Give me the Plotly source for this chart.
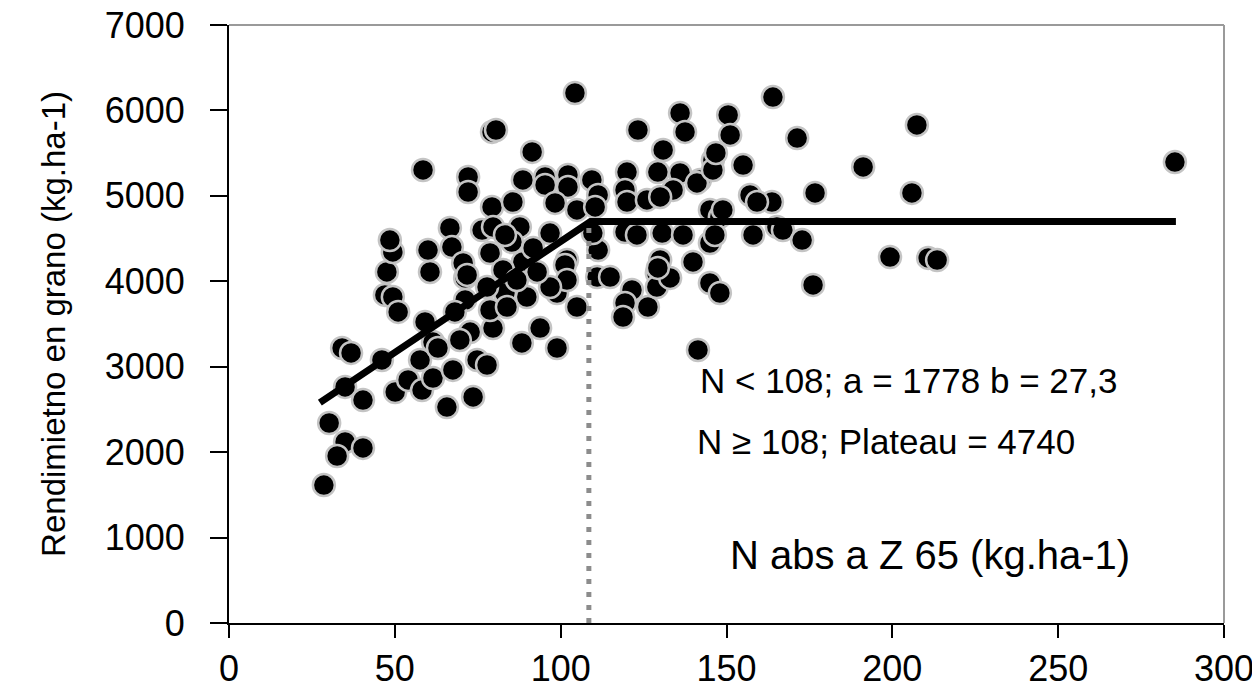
import plotly.graph_objects as go

# Observed points: N absorbed at Z65 (kg/ha) vs grain yield (kg/ha)
n_abs = [30.2, 35.0, 32.6, 40.4, 28.6, 34.1, 36.8, 35.0, 40.4, 46.1, 50.1, 54.0, 58.2, 57.6, 61.5,
         65.7, 67.5, 73.6, 74.8, 77.8, 72.7, 59.1, 61.5, 63.0, 79.6, 69.6, 47.6, 60.6, 47.0, 49.4,
         51.0, 71.2, 71.2, 78.7, 58.5, 72.1, 72.1, 79.3, 79.3, 66.6, 76.3, 67.2, 60.0, 49.4, 48.5,
         70.6, 78.7, 71.8, 104.3, 80.5, 91.4, 123.3, 136.0, 137.5, 130.9, 145.9, 120.0, 129.3, 136.0,
         142.0, 88.6, 95.3, 102.2, 109.4, 95.3, 102.2, 111.3, 85.6, 98.3, 104.9, 110.4, 119.4, 120.0,
         126.0, 133.9, 130.0, 145.0, 141.1, 145.9, 79.6, 87.7, 85.3, 96.8, 88.6, 101.9, 111.3, 109.7,
         119.4, 123.0, 130.6, 136.9, 145.0, 130.0, 139.9, 129.0, 148.0, 111.0, 114.9, 121.5, 119.4,
         118.8, 126.3, 129.0, 133.0, 129.3, 145.0, 141.4, 104.9, 98.9, 89.8, 83.2, 93.8, 88.3, 98.9,
         101.3, 101.9, 96.8, 164.0, 150.5, 151.1, 171.3, 207.4, 191.2, 155.0, 176.7, 205.9, 157.1,
         163.7, 159.2, 148.9, 158.0, 165.2, 167.0, 172.8, 199.3, 210.8, 213.5, 176.1, 148.0, 285.2,
         146.8, 83.2, 91.7, 82.6, 92.9, 77.8, 86.8, 68.1, 83.8, 146.5]
rend = [2341, 2119, 1955, 2049, 1615, 3219, 3161, 2763, 2610, 3079, 2704, 2845, 2727, 3079, 2868,
        2528, 2962, 2646, 3079, 3020, 3406, 3524, 3289, 3219, 3453, 3313, 4109, 4109, 3840, 3816,
        3641, 4039, 3781, 3664, 5303, 5221, 5045, 5748, 4870, 4624, 4600, 4401, 4366, 4343, 4483,
        4214, 4331, 4074, 6204, 5771, 5514, 5771, 5970, 5748, 5537, 5420, 5279, 5279, 5268,
        5186, 5186, 5221, 5244, 5186, 5127, 5104, 5010, 4928, 4917, 4835, 4870, 5069, 4928,
        4952, 5069, 4987, 4835, 5151, 5303, 4636, 4636, 4460, 4565, 4226, 4249, 4366, 4565,
        4577, 4542, 4565, 4542, 4448, 4249, 4226, 4097, 4753, 4050, 4050, 3898, 3746,
        3582, 3699, 3933, 4039, 4156, 3980, 3196, 3699, 3863, 3816, 3863, 3453, 3278, 3219,
        4191, 4015, 3933, 6157, 5947, 5713, 5677, 5830, 5338, 5361, 5034, 5034, 5010,
        4928, 4928, 4835, 4542, 4636, 4600, 4483, 4284, 4273, 4249, 3957, 3863, 5396,
        5502, 4542, 4390, 4132, 4109, 3933, 4015, 3641, 3699, 4542]

# Fitted linear-plateau model (as drawn)
fit_x = [27.4, 109.0, 285.5]
fit_y = [2579, 4700, 4700]
break_x = [108.5, 108.5]
break_y = [0, 4650]

x_ticks = [0, 50, 100, 150, 200, 250, 300]
y_ticks = [0, 1000, 2000, 3000, 4000, 5000, 6000, 7000]

FONT = "Liberation Sans, Arial, sans-serif"

fig = go.Figure()
fig.add_trace(go.Scatter(
    x=n_abs, y=rend, mode="markers",
    marker=dict(size=22, color="black", line=dict(color="#c4c4c4", width=2.5)),
    showlegend=False, hoverinfo="x+y"))
fig.add_trace(go.Scatter(
    x=fit_x, y=fit_y, mode="lines",
    line=dict(color="black", width=7), showlegend=False))
fig.add_trace(go.Scatter(
    x=break_x, y=break_y, mode="lines",
    line=dict(color="#8c8c8c", width=5, dash="5px,8px"), showlegend=False))

fig.update_layout(
    width=1252, height=683,
    margin=dict(l=221, r=36, t=17, b=68),
    paper_bgcolor="white", plot_bgcolor="white",
    font=dict(family=FONT, color="black", size=36),
    xaxis=dict(range=[0, 300], tickvals=x_ticks, ticktext=[str(v) for v in x_ticks],
               showgrid=False, zeroline=False, showline=True, linecolor="black", linewidth=2,
               ticks="outside", ticklen=13, tickwidth=2, tickcolor="black", automargin=False,
               tickfont=dict(size=36), ticklabelstandoff=0, ticklabeloverflow="allow"),
    yaxis=dict(range=[0, 7000], tickvals=y_ticks, ticktext=[str(v) for v in y_ticks],
               showgrid=False, zeroline=False, showline=True, linecolor="black", linewidth=2,
               ticks="outside", ticklen=17, tickwidth=2, tickcolor="black", automargin=False,
               tickfont=dict(size=36), ticklabelstandoff=18, ticklabeloverflow="allow"),
    shapes=[
        dict(type="line", xref="paper", yref="paper", x0=0, x1=1, y0=1, y1=1,
             line=dict(color="#9a9a9a", width=2)),
        dict(type="line", xref="paper", yref="paper", x0=1, x1=1, y0=0, y1=1,
             line=dict(color="#9a9a9a", width=2)),
    ],
    annotations=[
        dict(x=-0.177, y=0.5, xref="paper", yref="paper", xanchor="center", yanchor="middle",
             text="Rendimietno en grano (kg.ha-1)", textangle=-90, showarrow=False,
             font=dict(size=33)),
        dict(x=0.471, y=0.406, xref="paper", yref="paper", xanchor="left", yanchor="middle",
             text="N &lt; 108; a = 1778 b = 27,3", showarrow=False, font=dict(size=35)),
        dict(x=0.468, y=0.303, xref="paper", yref="paper", xanchor="left", yanchor="middle",
             text="N ≥ 108; Plateau = 4740", showarrow=False, font=dict(size=35)),
        dict(x=0.5015, y=0.114, xref="paper", yref="paper", xanchor="left", yanchor="middle",
             text="N abs a Z 65 (kg.ha-1)", showarrow=False, font=dict(size=40)),
    ],
)

fig.write_html("out.html")
